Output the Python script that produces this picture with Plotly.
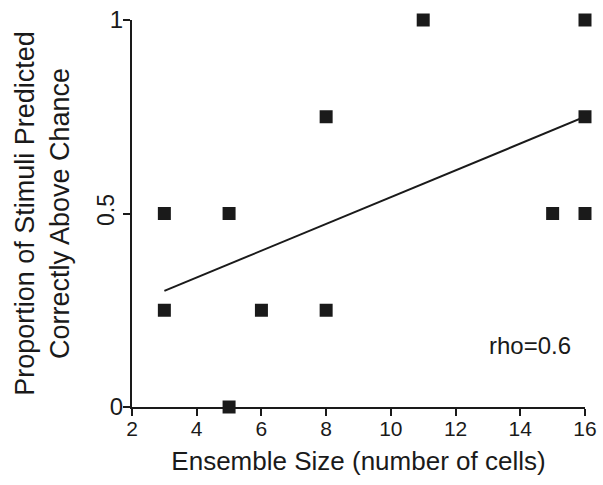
import plotly.graph_objects as go

ensemble_size = [3, 3, 5, 5, 6, 8, 8, 11, 15, 16, 16, 16]
proportion = [0.5, 0.25, 0.5, 0.0, 0.25, 0.75, 0.25, 1.0, 0.5, 1.0, 0.75, 0.5]
fit_x = [3, 16]
fit_y = [0.30, 0.75]
x_ticks = [2, 4, 6, 8, 10, 12, 14, 16]
y_ticks = [0, 0.5, 1]
y_tick_text = ["0", "", "1"]
y_mid_tick = [0.5]
y_mid_text = ["0.5"]

ink = "#1a1a1a"
fig = go.Figure()
fig.add_trace(go.Scatter(x=fit_x, y=fit_y, mode="lines",
                         line=dict(color=ink, width=2), cliponaxis=False))
fig.add_trace(go.Scatter(x=ensemble_size, y=proportion, mode="markers",
                         marker=dict(symbol="square", size=13, color=ink,
                                     line=dict(width=0)), cliponaxis=False))
fig.add_trace(go.Scatter(x=[None], y=[None], yaxis="y2", showlegend=False))
fig.add_annotation(x=14.3, y=0.16, text="rho=0.6", showarrow=False,
                   font=dict(size=24, color=ink))

fig.update_layout(
    width=603, height=485,
    margin=dict(l=132, r=18, t=20, b=78),
    plot_bgcolor="white", paper_bgcolor="white",
    showlegend=False,
    font=dict(family="Liberation Sans, Arial", color=ink),
    xaxis=dict(range=[2, 16], tickvals=x_ticks, showgrid=False, zeroline=False,
               showline=True, linecolor=ink, linewidth=2, automargin=False,
               ticks="outside", ticklen=7, tickwidth=2, tickcolor=ink,
               tickfont=dict(size=21), ticklabelstandoff=-5,
               title=dict(text="Ensemble Size (number of cells)", font=dict(size=26), standoff=13)),
    yaxis=dict(range=[0, 1], tickvals=y_ticks, ticktext=y_tick_text, showgrid=False, zeroline=False,
               showline=True, linecolor=ink, linewidth=2, automargin=False,
               ticks="outside", ticklen=7, tickwidth=2, tickcolor=ink,
               tickfont=dict(size=24), tickangle=0, ticklabelstandoff=-5,
               title=dict(text="Proportion of Stimuli Predicted<br>Correctly Above Chance",
                          font=dict(size=27), standoff=32)),
    yaxis2=dict(range=[0, 1], overlaying="y", side="left", tickvals=y_mid_tick, ticktext=y_mid_text,
                showgrid=False, zeroline=False, showline=False, ticks="outside", ticklen=7,
                automargin=False, ticklabelstandoff=1,
                tickcolor="rgba(0,0,0,0)", tickfont=dict(size=23), tickangle=-90),
)
fig.write_html("out.html", config={"displayModeBar": False},
               post_script="document.body.style.margin='0';")
